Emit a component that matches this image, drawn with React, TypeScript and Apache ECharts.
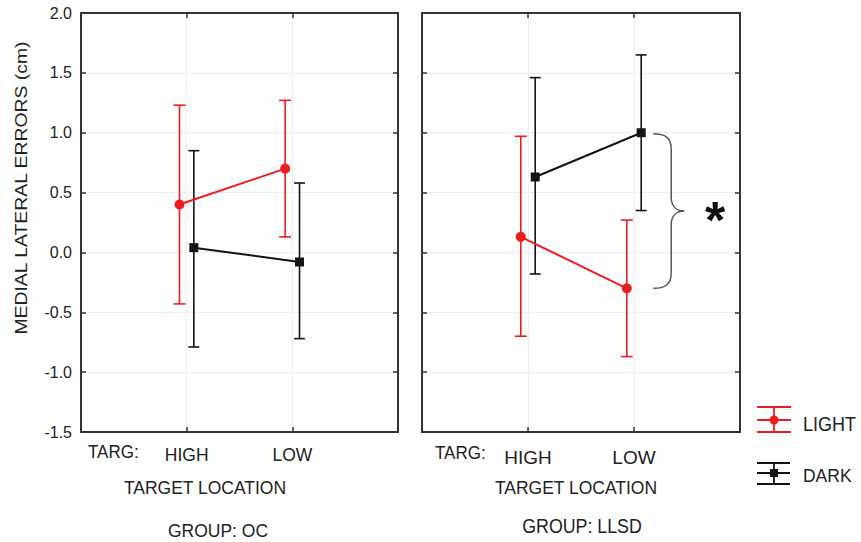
import React, { useEffect, useRef } from "react";
import * as echarts from "echarts";

const categories = ["HIGH", "LOW"];
const groupNames = ["OC", "LLSD"];
const legendNames = ["LIGHT", "DARK"];
const yMin = -1.5;
const yMax = 2.0;
const yStep = 0.5;

// GROUP: OC
const ocLightMean = [0.4, 0.7];
const ocLightLow = [-0.43, 0.13];
const ocLightHigh = [1.23, 1.27];
const ocDarkMean = [0.04, -0.08];
const ocDarkLow = [-0.79, -0.72];
const ocDarkHigh = [0.85, 0.58];

// GROUP: LLSD
const llsdLightMean = [0.13, -0.3];
const llsdLightLow = [-0.7, -0.87];
const llsdLightHigh = [0.97, 0.27];
const llsdDarkMean = [0.63, 1.0];
const llsdDarkLow = [-0.18, 0.35];
const llsdDarkHigh = [1.46, 1.65];

const RED = "#f01c1c";
const BLACK = "#141414";
const AXIS = "#333333";
const TEXT = "#222222";
const FONT = "'Liberation Sans', Arial, sans-serif";
const LIGHT_OFF = -0.068;
const DARK_OFF = 0.068;

function errorSeries(name: string, gi: number, low: number[], high: number[], off: number, color: string, capHalf: number) {
  return {
    type: "custom",
    name,
    xAxisIndex: gi * 2,
    yAxisIndex: gi * 2,
    z: 2,
    silent: true,
    data: categories.map((_, j) => [j + 1 + off, low[j], high[j]]),
    renderItem: (params: any, api: any) => {
      const x = api.value(0);
      const pLo = api.coord([x, api.value(1)]);
      const pHi = api.coord([x, api.value(2)]);
      const style = { stroke: color, lineWidth: 1.6 };
      return {
        type: "group",
        children: [
          { type: "line", shape: { x1: pLo[0], y1: pLo[1], x2: pHi[0], y2: pHi[1] }, style },
          { type: "line", shape: { x1: pHi[0] - capHalf, y1: pHi[1], x2: pHi[0] + capHalf, y2: pHi[1] }, style },
          { type: "line", shape: { x1: pLo[0] - capHalf, y1: pLo[1], x2: pLo[0] + capHalf, y2: pLo[1] }, style },
        ],
      };
    },
  };
}

function meanSeries(name: string, gi: number, mean: number[], off: number, color: string, symbol: string, size: number) {
  return {
    type: "line",
    name,
    xAxisIndex: gi * 2,
    yAxisIndex: gi * 2,
    z: 3,
    data: categories.map((_, j) => [j + 1 + off, mean[j]]),
    symbol,
    symbolSize: size,
    showSymbol: true,
    itemStyle: { color },
    lineStyle: { color, width: 2 },
  };
}

export default function App() {
  const ref = useRef<HTMLDivElement>(null);
  useEffect(() => {
    if (!ref.current) return;
    const chart = echarts.init(ref.current, undefined, { renderer: "svg" });
    const grids = [
      { left: 81, top: 13, width: 317, height: 419 },
      { left: 422, top: 13, width: 318, height: 419 },
    ];
    const axisLine = { show: true, onZero: false, lineStyle: { color: AXIS, width: 2 } };
    const axisTick = { show: true, inside: true, length: 5, lineStyle: { color: AXIS, width: 1.5 } };
    const split = { show: true, lineStyle: { color: "#eeeeee", width: 1 } };
    const xAxes: any[] = [];
    const yAxes: any[] = [];
    [0, 1].forEach((gi) => {
      xAxes.push({
        type: "value", gridIndex: gi, min: 0, max: 3, interval: 1, position: "bottom",
        axisLine, axisTick, splitLine: split,
        axisLabel: {
          show: true,
          margin: gi === 0 ? 14 : 16,
          fontSize: gi === 0 ? 17.5 : 19,
          fontFamily: FONT,
          color: TEXT,
          formatter: (v: number) => (v >= 1 && v <= categories.length ? categories[v - 1] : ""),
        },
      });
      xAxes.push({
        type: "value", gridIndex: gi, min: 0, max: 3, interval: 1, position: "top",
        axisLine, axisTick, splitLine: { show: false }, axisLabel: { show: false },
      });
      yAxes.push({
        type: "value", gridIndex: gi, min: yMin, max: yMax, interval: yStep, position: "left",
        axisLine, axisTick, splitLine: split,
        axisLabel: {
          show: gi === 0, margin: 9, fontSize: 16, fontFamily: FONT, color: TEXT,
          formatter: (v: number) => v.toFixed(1),
        },
      });
      yAxes.push({
        type: "value", gridIndex: gi, min: yMin, max: yMax, interval: yStep, position: "right",
        axisLine, axisTick, splitLine: { show: false }, axisLabel: { show: false },
      });
    });

    const series: any[] = [
      errorSeries("oc-light-err", 0, ocLightLow, ocLightHigh, LIGHT_OFF, RED, 6),
      errorSeries("oc-dark-err", 0, ocDarkLow, ocDarkHigh, DARK_OFF, BLACK, 5.5),
      meanSeries(legendNames[0], 0, ocLightMean, LIGHT_OFF, RED, "circle", 10),
      meanSeries(legendNames[1], 0, ocDarkMean, DARK_OFF, BLACK, "rect", 9),
      errorSeries("llsd-light-err", 1, llsdLightLow, llsdLightHigh, LIGHT_OFF, RED, 6),
      errorSeries("llsd-dark-err", 1, llsdDarkLow, llsdDarkHigh, DARK_OFF, BLACK, 5.5),
      meanSeries(legendNames[0] + " ", 1, llsdLightMean, LIGHT_OFF, RED, "circle", 10),
      meanSeries(legendNames[1] + " ", 1, llsdDarkMean, DARK_OFF, BLACK, "rect", 9),
    ];

    chart.setOption({
      animation: false,
      backgroundColor: "#ffffff",
      grid: grids,
      xAxis: xAxes,
      yAxis: yAxes,
      series,
    });

    // Brace between LLSD LOW dark and light means
    const pTop = chart.convertToPixel({ xAxisIndex: 2, yAxisIndex: 2 }, [2 + DARK_OFF, llsdDarkMean[1]]) as number[];
    const pBot = chart.convertToPixel({ xAxisIndex: 2, yAxisIndex: 2 }, [2 + DARK_OFF, llsdLightMean[1]]) as number[];
    const x0 = pTop[0] + 12;
    const yT = pTop[1] + 1;
    const yB = pBot[1];
    const yM = (yT + yB) / 2;
    const sx = x0 + 18;
    const tip = x0 + 31;
    const bs = { stroke: "#555555", lineWidth: 1.5, fill: null };
    const brace = [
      { type: "bezierCurve", shape: { x1: x0, y1: yT, cpx1: x0 + 12, cpy1: yT, cpx2: sx, cpy2: yT + 4, x2: sx, y2: yT + 15 }, style: bs },
      { type: "line", shape: { x1: sx, y1: yT + 15, x2: sx, y2: yM - 14 }, style: bs },
      { type: "bezierCurve", shape: { x1: sx, y1: yM - 14, cpx1: sx, cpy1: yM - 4, cpx2: sx + 6, cpy2: yM, x2: tip, y2: yM }, style: bs },
      { type: "bezierCurve", shape: { x1: tip, y1: yM, cpx1: sx + 6, cpy1: yM, cpx2: sx, cpy2: yM + 4, x2: sx, y2: yM + 14 }, style: bs },
      { type: "line", shape: { x1: sx, y1: yM + 14, x2: sx, y2: yB - 15 }, style: bs },
      { type: "bezierCurve", shape: { x1: sx, y1: yB - 15, cpx1: sx, cpy1: yB - 4, cpx2: x0 + 12, cpy2: yB, x2: x0, y2: yB }, style: bs },
    ];

    const txt = (text: string, x: number, y: number, size: number, align: string, extra: any = {}) => ({
      type: "text", x, y, scaleY: 1.1, ...extra,
      style: { text, fontSize: size, fontFamily: FONT, fill: TEXT, align, verticalAlign: "middle", ...(extra.style || {}) },
    });

    const legend = [
      // LIGHT
      { type: "line", shape: { x1: 757, y1: 407, x2: 791, y2: 407 }, style: { stroke: RED, lineWidth: 1.8 } },
      { type: "line", shape: { x1: 757, y1: 420, x2: 791, y2: 420 }, style: { stroke: RED, lineWidth: 1.8 } },
      { type: "line", shape: { x1: 757, y1: 432, x2: 791, y2: 432 }, style: { stroke: RED, lineWidth: 1.8 } },
      { type: "line", shape: { x1: 774, y1: 407, x2: 774, y2: 432 }, style: { stroke: RED, lineWidth: 1.8 } },
      { type: "circle", shape: { cx: 774, cy: 420, r: 4.5 }, style: { fill: RED } },
      txt(legendNames[0], 803, 424, 18, "left"),
      // DARK
      { type: "line", shape: { x1: 757, y1: 463, x2: 790, y2: 463 }, style: { stroke: BLACK, lineWidth: 1.8 } },
      { type: "line", shape: { x1: 757, y1: 473, x2: 790, y2: 473 }, style: { stroke: BLACK, lineWidth: 1.8 } },
      { type: "line", shape: { x1: 757, y1: 484, x2: 790, y2: 484 }, style: { stroke: BLACK, lineWidth: 1.8 } },
      { type: "line", shape: { x1: 774, y1: 463, x2: 774, y2: 484 }, style: { stroke: BLACK, lineWidth: 1.8 } },
      { type: "rect", shape: { x: 770, y: 469, width: 8, height: 8 }, style: { fill: BLACK } },
      txt(legendNames[1], 803, 475, 17.5, "left"),
    ];

    const texts = [
      txt("MEDIAL LATERAL ERRORS (cm)", 21, 188, 17, "center", { rotation: Math.PI / 2, scaleX: 1.14, scaleY: 1 }),
      txt("TARG:", 88, 452, 17, "left"),
      txt("TARGET LOCATION", 205, 487, 17.5, "center"),
      txt("GROUP: " + groupNames[0], 218, 530, 17.5, "center"),
      txt("TARG:", 435, 453, 17, "left"),
      txt("TARGET LOCATION", 576, 487, 17.5, "center"),
      txt("GROUP: " + groupNames[1], 582, 526, 17.8, "center"),
      txt("*", 715, 220, 52, "center", { scaleY: 1, style: { fontWeight: "bold", fill: "#111111" } }),
    ];

    chart.setOption({ graphic: [...brace, ...legend, ...texts] });

    return () => chart.dispose();
  }, []);
  return <div ref={ref} style={{ position: "fixed", left: 0, top: 0, width: 861, height: 542 }} />;
}
